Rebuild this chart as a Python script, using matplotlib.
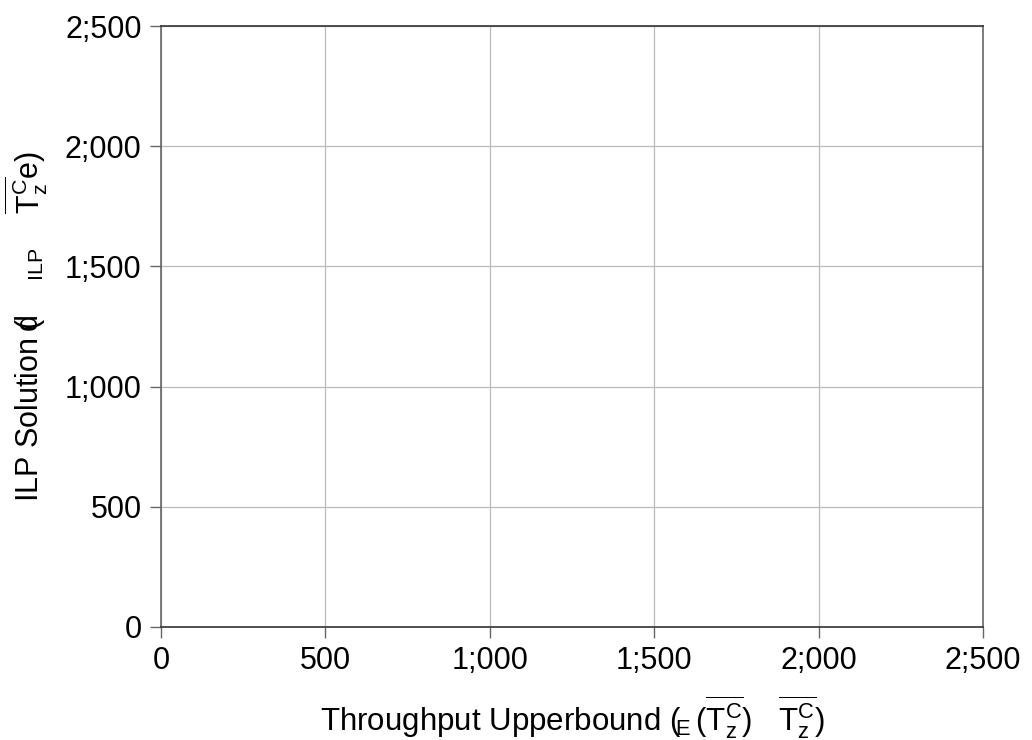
import matplotlib
matplotlib.use("Agg")
import matplotlib.pyplot as plt

plt.rcParams['font.family'] = ['Liberation Sans', 'DejaVu Sans']
plt.rcParams['mathtext.fontset'] = 'custom'
plt.rcParams['mathtext.rm'] = 'Liberation Sans'
plt.rcParams['mathtext.it'] = 'Liberation Sans'

# axis ticks and their labels (semicolon used as thousands separator)
x_ticks = [0, 500, 1000, 1500, 2000, 2500]
y_ticks = [0, 500, 1000, 1500, 2000, 2500]
x_tick_labels = ['0', '500', '1;000', '1;500', '2;000', '2;500']
y_tick_labels = ['0', '500', '1;000', '1;500', '2;000', '2;500']

# no solved instances plotted
upper_bound = []
ilp_solution = []

fig = plt.figure(figsize=(10.32, 7.4), dpi=100)
ax = fig.add_axes([161 / 1032, 1 - 627 / 740, (983 - 161) / 1032, (627 - 26) / 740])

ax.plot(upper_bound, ilp_solution, 'o', color='black')

ax.set_xlim(0, 2500)
ax.set_ylim(0, 2500)
ax.set_xticks(x_ticks)
ax.set_yticks(y_ticks)
ax.set_xticklabels(x_tick_labels)
ax.set_yticklabels(y_tick_labels)
ax.tick_params(axis='both', direction='out', length=8, width=1, color='#666666',
               labelsize=22, pad=6)

ax.grid(True, color='#bbbbbb', linewidth=0.9)
ax.set_axisbelow(True)

for side in ['top', 'bottom']:
    ax.spines[side].set_color('#333333')
for side in ['left', 'right']:
    ax.spines[side].set_color('#666666')
for s in ax.spines.values():
    s.set_linewidth(1.2)

ax.set_xlabel(r'Throughput Upperbound ($\!_{\rm E}\,(\overline{\rm T_z^C})$   $\overline{\rm T_z^C})$',
              fontsize=22.5, labelpad=12)
ax.set_ylabel(r'ILP Solution ($\!\!\!$d    $_{\rm ILP}$    $\overline{\rm T_z^C}$e)',
              fontsize=22, labelpad=10)

fig.savefig('out.png', dpi=100)
